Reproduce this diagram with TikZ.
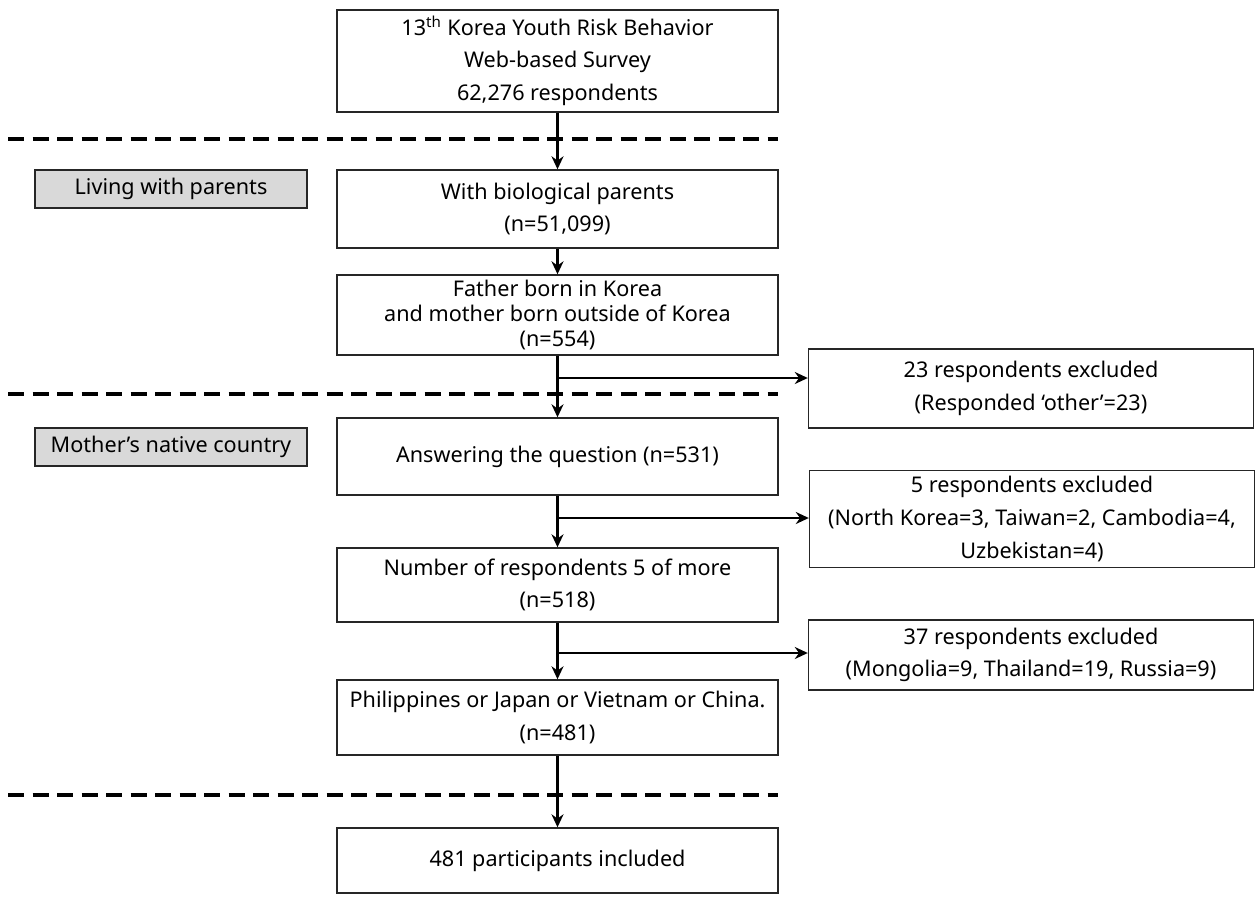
\documentclass[tikz,border=0pt]{standalone}
\usepackage{fontspec}
\setmainfont{Noto Sans}
\usepackage{tikz}
\usetikzlibrary{positioning,arrows.meta,calc}

\begin{document}
\begin{tikzpicture}[
    >={Stealth[length=2.6mm,width=2.4mm]},
    font=\fontsize{12.3}{18.6}\selectfont,
    box/.style={
        draw=black!85,
        line width=0.8pt,
        minimum width=8.82cm,
        align=center,
        fill=white
    },
    excl/.style={
        draw=black!85,
        line width=0.8pt,
        minimum width=8.9cm,
        align=center,
        fill=white
    },
    stage/.style={
        draw=black!85,
        line width=0.8pt,
        minimum width=5.44cm,
        minimum height=0.76cm,
        align=center,
        fill=gray!30
    },
    arr/.style={->, line width=1.4pt},
    cut/.style={line width=2.2pt, dash pattern=on 0.32cm off 0.17cm}
]
\useasboundingbox (0,0) rectangle (25.14,-17.92);

% cut lines between stages
\draw[cut] (0.16,-2.78) -- (15.56,-2.78);
\draw[cut] (0.16,-7.88) -- (15.56,-7.88);
\draw[cut] (0.16,-15.90) -- (15.56,-15.90);

% main column
\node[box, minimum height=2.04cm] (survey) at (11.15,-1.22)
{13\textsuperscript{th} Korea Youth Risk Behavior\\
Web-based Survey\\
62,276 respondents};

\node[box, minimum height=1.56cm] (bio) at (11.15,-4.18)
{With biological parents\\
(n=51,099)};

\node[box, minimum height=1.6cm, inner ysep=0pt,
      font=\fontsize{12.3}{14.4}\selectfont] (father) at (11.15,-6.30)
{Father born in Korea\\
and mother born outside of Korea\\
(n=554)};

\node[box, minimum height=1.54cm] (answer) at (11.15,-9.13)
{Answering the question (n=531)};

\node[box, minimum height=1.48cm] (five) at (11.15,-11.70)
{Number of respondents 5 of more\\
(n=518)};

\node[box, minimum height=1.5cm] (four) at (11.15,-14.35)
{Philippines or Japan or Vietnam or China.\\
(n=481)};

\node[box, minimum height=1.3cm] (final) at (11.15,-17.21)
{481 participants included};

% stage labels
\node[stage] (living) at (3.42,-3.78) {Living with parents};
\node[stage] (mother) at (3.42,-8.94) {Mother’s native country};

% exclusions
\node[excl, minimum height=1.58cm] (ex23) at (20.62,-7.77)
{23 respondents excluded\\
(Responded ‘other’=23)};

\node[excl, minimum height=1.84cm] (ex5) at (20.64,-10.38)
{5 respondents excluded\\
(North Korea=3, Taiwan=2, Cambodia=4,\\
Uzbekistan=4)};

\node[excl, minimum height=1.4cm] (ex37) at (20.62,-13.10)
{37 respondents excluded\\
(Mongolia=9, Thailand=19, Russia=9)};

\coordinate (b23) at (11.15,-7.56);
\coordinate (b5) at (11.15,-10.36);
\coordinate (b37) at (11.15,-13.06);

\draw[arr] (survey) -- (bio);
\draw[arr] (bio) -- (father);
\draw[arr] (father) -- (answer);
\draw[arr] (answer) -- (five);
\draw[arr] (five) -- (four);
\draw[arr] (four) -- (final);

\draw[arr] (b23) -- (b23 -| ex23.west);
\draw[arr] (b5) -- (b5 -| ex5.west);
\draw[arr] (b37) -- (b37 -| ex37.west);

\end{tikzpicture}
\end{document}
